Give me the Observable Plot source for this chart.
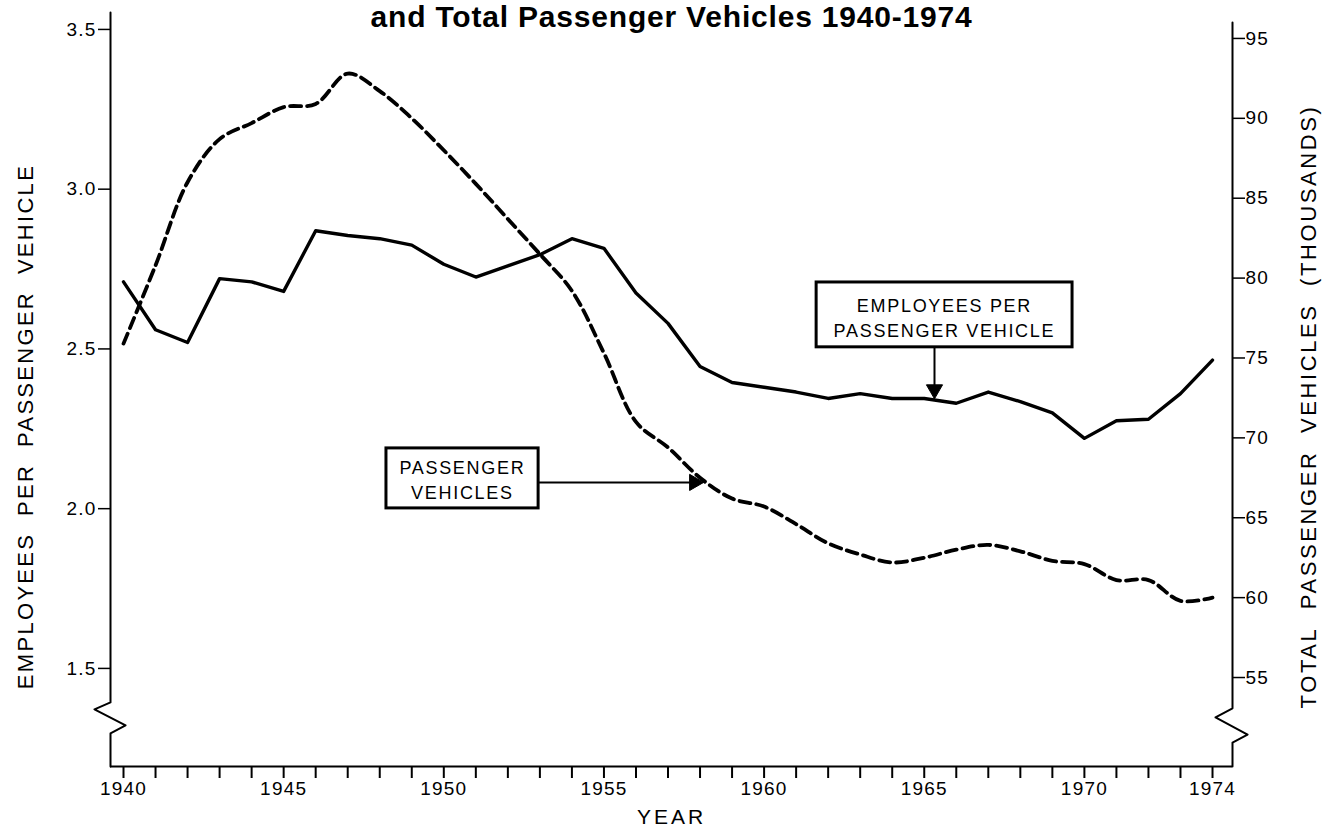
<!DOCTYPE html>
<html>
<head>
<meta charset="utf-8">
<script src="https://cdn.jsdelivr.net/npm/d3@7"></script>
<script src="https://cdn.jsdelivr.net/npm/@observablehq/plot@0.6"></script>
<style>
  html, body { margin: 0; padding: 0; background: #fff; overflow: hidden; }
  #chart svg { display: block; }
  g[aria-label$="tick label"] text { letter-spacing: 1.2px; }
</style>
</head>
<body>
<div id="chart"></div>
<script>
// ---------- data ----------
const years = [1940,1941,1942,1943,1944,1945,1946,1947,1948,1949,
               1950,1951,1952,1953,1954,1955,1956,1957,1958,1959,
               1960,1961,1962,1963,1964,1965,1966,1967,1968,1969,
               1970,1971,1972,1973,1974];

// Employees per passenger vehicle (left axis)
const employeesPerVehicle = [2.71,2.56,2.52,2.72,2.71,2.68,2.87,2.855,2.845,2.825,
                             2.765,2.725,2.76,2.795,2.845,2.815,2.675,2.58,2.445,2.395,
                             2.38,2.365,2.345,2.36,2.345,2.345,2.33,2.365,2.335,2.30,
                             2.22,2.275,2.28,2.36,2.465];

// Total passenger vehicles, thousands (right axis)
const passengerVehicles = [75.9,80.8,86.0,88.7,89.7,90.7,90.9,92.8,91.7,90.0,
                           88.0,85.9,83.7,81.5,79.2,75.3,71.0,69.4,67.5,66.2,
                           65.7,64.6,63.4,62.7,62.2,62.5,63.0,63.3,62.9,62.3,
                           62.1,61.1,61.1,59.8,60.0];

const leftTicks  = [1.5, 2.0, 2.5, 3.0, 3.5];
const rightTicks = [55, 60, 65, 70, 75, 80, 85, 90, 95];
const xTickYears = years;
const xLabelYears = [1940, 1945, 1950, 1955, 1960, 1965, 1970, 1974];

const titleText = "and Total Passenger Vehicles 1940-1974";
const xTitle = "YEAR";
const leftTitle = "EMPLOYEES\u00a0 PER\u00a0 PASSENGER\u00a0 VEHICLE";
const rightTitle = "TOTAL\u00a0 PASSENGER\u00a0 VEHICLES\u00a0 (THOUSANDS)";
const empLabel = "EMPLOYEES PER\nPASSENGER VEHICLE";
const vehLabel = "PASSENGER\nVEHICLES";

// mapping of the right (thousands) axis onto the left axis values
const rightToLeft = d3.scaleLinear([55, 95], [1.4715, 3.4718]);

// ---------- derived tables ----------
const empData = years.map((year, i) => ({year, value: employeesPerVehicle[i]}));
const vehData = years.map((year, i) => ({year, value: rightToLeft(passengerVehicles[i])}));

// axis frame (data units)
const X0 = 1939.594, X1 = 1974.624, YB = 1.193, YT = 3.553;

// axis lines with break marks
const leftAxisPath = [
  {x: X0, y: YT}, {x: X0, y: 1.3936}, {x: X0 - 0.5, y: 1.3717},
  {x: X0 + 0.47, y: 1.3216}, {x: X0, y: 1.2966}, {x: X0, y: YB}
];
const rightAxisPath = [
  {x: X1, y: 3.522}, {x: X1, y: 1.375}, {x: X1 - 0.53, y: 1.3466},
  {x: X1 + 0.47, y: 1.293}, {x: X1, y: 1.268}, {x: X1, y: YB}
];

// annotations (data units)
const boxes = [
  {x1: 1961.64, x2: 1969.63, y1: 2.708, y2: 2.505},
  {x1: 1948.21, x2: 1952.96, y1: 2.1886, y2: 2.0008}
];
const boxLabels = [
  {x: 1965.63, y: 2.600, text: empLabel},
  {x: 1950.58, y: 2.093, text: vehLabel}
];
const arrowShafts = [
  {x1: 1965.32, y1: 2.505, x2: 1965.32, y2: 2.375},
  {x1: 1952.96, y1: 2.0822, x2: 1957.85, y2: 2.0822}
];
const arrowHeads = [
  {x: 1965.32, y: 2.373, rotate: 180},
  {x: 1957.82, y: 2.0822, rotate: 90}
];

const FONT = "'Liberation Sans', Arial, Helvetica, sans-serif";

const chart = Plot.plot({
  width: 1323,
  height: 827,
  marginLeft: 110,
  marginRight: 91,
  marginTop: 12,
  marginBottom: 61,
  x: {domain: [X0, X1]},
  y: {domain: [YB, YT]},
  style: {fontFamily: FONT, background: "white", color: "black"},
  marks: [
    // axis lines
    Plot.line(leftAxisPath, {x: "x", y: "y", stroke: "black", strokeWidth: 2}),
    Plot.line(rightAxisPath, {x: "x", y: "y", stroke: "black", strokeWidth: 2}),
    Plot.ruleY([YB], {stroke: "black", strokeWidth: 2}),
    Plot.axisX({
      ticks: xTickYears, tickSize: 12, tickPadding: 3, strokeWidth: 2,
      tickFormat: d => xLabelYears.includes(d) ? String(d) : "",
      fontSize: 19, label: null
    }),
    Plot.axisY({
      anchor: "left", ticks: leftTicks, tickSize: 12, tickPadding: 2, strokeWidth: 1.5,
      tickFormat: d3.format(".1f"), fontSize: 19, label: null
    }),
    Plot.axisY({
      anchor: "right", ticks: rightTicks.map(rightToLeft), tickSize: 12, tickPadding: 1, strokeWidth: 1.5,
      tickFormat: v => String(Math.round(rightToLeft.invert(v))), fontSize: 19, label: null
    }),
    // series
    Plot.line(vehData, {x: "year", y: "value", stroke: "black", strokeWidth: 3.8,
      strokeDasharray: "11,6", curve: "catmull-rom"}),
    Plot.line(empData, {x: "year", y: "value", stroke: "black", strokeWidth: 3.4}),
    // annotations
    Plot.rect(boxes, {x1: "x1", x2: "x2", y1: "y1", y2: "y2", fill: "white", stroke: "black", strokeWidth: 3}),
    Plot.text(boxLabels, {x: "x", y: "y", text: "text", fontSize: 18, lineHeight: 1.39}),
    Plot.link(arrowShafts, {x1: "x1", y1: "y1", x2: "x2", y2: "y2", stroke: "black", strokeWidth: 2}),
    Plot.dot(arrowHeads, {x: "x", y: "y", rotate: "rotate", symbol: "triangle", r: 6, fill: "black", stroke: "black", strokeWidth: 1}),
    // titles
    Plot.text([titleText], {frameAnchor: "top", lineAnchor: "middle", dy: 5, fontSize: 30, fontWeight: "bold"}),
    Plot.text([xTitle], {frameAnchor: "bottom", lineAnchor: "middle", textAnchor: "middle", dy: 51, fontSize: 21}),
    Plot.text([leftTitle], {frameAnchor: "left", textAnchor: "middle", lineAnchor: "middle", rotate: -90, dx: -85, dy: 37, fontSize: 22}),
    Plot.text([rightTitle], {frameAnchor: "right", textAnchor: "middle", lineAnchor: "middle", rotate: -90, dx: 76, dy: 17, fontSize: 22})
  ]
});

document.getElementById("chart").appendChild(chart);

// letter spacing to match the original typewriter-like spacing
const spacing = new Map([
  [titleText, "0.8px"],
  [xTitle, "3px"],
  [leftTitle, "2.3px"],
  [rightTitle, "2.6px"],
  [empLabel.replace("\n", ""), "1.7px"],
  [vehLabel.replace("\n", ""), "1.7px"]
]);
d3.select(chart).selectAll("text").each(function() {
  const s = spacing.get(this.textContent);
  if (s) this.style.letterSpacing = s;
});
</script>
</body>
</html>
